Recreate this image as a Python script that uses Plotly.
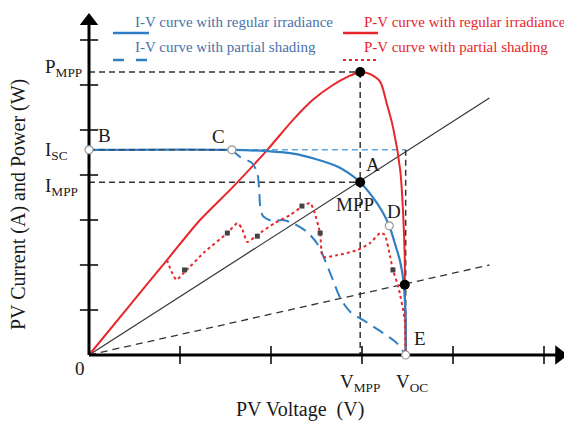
import plotly.graph_objects as go

# ---------------- data (axis units: 1 unit = one tick interval) ----------------
x_ticks = [1, 2, 3, 4, 5]
y_ticks = [1, 2, 3, 4, 5, 6, 7]

V_MPP = 2.98
V_OC = 3.48
P_MPP = 6.29
I_SC = 4.56
I_MPP = 3.84
V_C = 1.57

# I-V curve, regular irradiance
iv_reg_v = [0, 1.57, 1.96, 2.26, 2.48, 2.74, 2.87, 2.98, 3.11, 3.22, 3.30, 3.36, 3.42, 3.46, 3.48, 3.48]
iv_reg_i = [4.56, 4.56, 4.53, 4.47, 4.36, 4.18, 4.02, 3.84, 3.53, 3.20, 2.87, 2.49, 2.07, 1.56, 0.78, 0]

# P-V curve, regular irradiance
pv_reg_v = [0, 0.45, 0.857, 1.22, 1.58, 1.96, 2.24, 2.46, 2.68, 2.84, 2.98, 3.09, 3.20, 3.27, 3.34, 3.42, 3.45, 3.47, 3.47, 3.48]
pv_reg_p = [0, 1.11, 2.11, 3.0, 3.73, 4.56, 5.22, 5.67, 6.0, 6.18, 6.29, 6.24, 6.07, 5.6, 5.07, 4.11, 3.22, 2.11, 1.51, 0]

# I-V curve, partial shading
iv_ps_v = [1.57, 1.66, 1.79, 1.85, 1.87, 1.88, 1.91, 2.01, 2.13, 2.24, 2.40, 2.52, 2.60, 2.68, 2.76, 2.87, 3.01, 3.23, 3.38, 3.48]
iv_ps_i = [4.56, 4.4, 4.27, 4.04, 3.67, 3.33, 3.09, 2.98, 3.0, 2.93, 2.73, 2.44, 2.07, 1.67, 1.27, 0.96, 0.78, 0.49, 0.27, 0]

# P-V curve, partial shading
pv_ps_v = [0.857, 0.91, 0.96, 1.05, 1.27, 1.52, 1.63, 1.68, 1.74, 1.85, 2.04, 2.21, 2.35, 2.43, 2.47, 2.54, 2.57, 2.73, 2.95, 3.09, 3.20, 3.25, 3.31, 3.34, 3.40, 3.47, 3.48]
pv_ps_p = [2.11, 1.84, 1.67, 1.84, 2.29, 2.71, 2.93, 2.82, 2.51, 2.67, 2.93, 3.11, 3.31, 3.38, 3.22, 2.71, 2.18, 2.22, 2.33, 2.49, 2.71, 2.67, 2.18, 1.89, 1.51, 0.78, 0]
pv_ps_dot_v = [1.05, 1.52, 1.85, 2.34, 2.54, 3.34]
pv_ps_dot_p = [1.89, 2.71, 2.64, 3.31, 2.71, 1.89]

# load lines through the origin
load1_v = [0, 4.40]
load1_y = [0, 5.71]
load2_v = [0, 4.40]
load2_y = [0, 2.0]

# special points
solid_pts_v = [V_MPP, V_MPP, 3.47]
solid_pts_y = [P_MPP, I_MPP, 1.56]
open_pts_v = [0, V_C, 3.30, V_OC]
open_pts_y = [I_SC, I_SC, 2.87, 0]

# axis extents
x_axis_end = 5.17
y_axis_end = 7.42

BLUE = "#2f7fc4"
LBLUE = "#5aa6de"
RED = "#e8262b"
DARK = "#333333"
FONT = "Liberation Serif"

fig = go.Figure()

def line(x, y, color, width=1.5, dash="solid", shape="linear", smoothing=1.0):
    fig.add_trace(go.Scatter(x=x, y=y, mode="lines", hoverinfo="skip",
                             line=dict(color=color, width=width, dash=dash, shape=shape,
                                       smoothing=smoothing)))

# reference dashed lines
line([0, V_MPP], [P_MPP, P_MPP], DARK, 1.5, "6px,4px")
line([V_MPP, V_MPP], [P_MPP, 0], DARK, 1.5, "6px,4px")
line([0, V_MPP], [I_MPP, I_MPP], DARK, 1.5, "6px,4px")
line([V_C, V_OC], [I_SC, I_SC], LBLUE, 1.5, "6px,4px")
line([V_OC, V_OC], [I_SC, 0], DARK, 1.5, "6px,4px")

# load lines
line(load1_v, load1_y, DARK, 1.2)
line(load2_v, load2_y, DARK, 1.3, "7px,5px")

# curves
line(pv_reg_v, pv_reg_p, RED, 2, shape="spline", smoothing=0.8)
line(iv_ps_v, iv_ps_i, BLUE, 2, "12px,7px", shape="spline", smoothing=0.7)
line(iv_reg_v, iv_reg_i, BLUE, 2.2, shape="spline", smoothing=0.8)
line([0, V_C], [I_SC, I_SC], DARK, 1, "6px,4px")
line(pv_ps_v, pv_ps_p, RED, 2, "dot", shape="spline", smoothing=0.5)

fig.add_trace(go.Scatter(x=pv_ps_dot_v, y=pv_ps_dot_p, mode="markers", hoverinfo="skip",
                         marker=dict(symbol="square", size=5, color="#444444")))

# axes
line([0, x_axis_end], [0, 0], "black", 3)
line([0, 0], [0, y_axis_end], "black", 3)
fig.add_trace(go.Scatter(x=[x_axis_end], y=[0], mode="markers", hoverinfo="skip",
                         marker=dict(symbol="triangle-right", size=17, color="black")))
fig.add_trace(go.Scatter(x=[0], y=[y_axis_end], mode="markers", hoverinfo="skip",
                         marker=dict(symbol="triangle-up", size=16, color="black")))
fig.add_trace(go.Scatter(x=x_ticks, y=[0] * len(x_ticks), mode="markers", hoverinfo="skip",
                         marker=dict(symbol="line-ns", size=13, line=dict(color="black", width=1.5))))
fig.add_trace(go.Scatter(x=[0] * len(y_ticks), y=y_ticks, mode="markers", hoverinfo="skip",
                         marker=dict(symbol="line-ew", size=13, line=dict(color="black", width=1.5))))

# points
fig.add_trace(go.Scatter(x=open_pts_v, y=open_pts_y, mode="markers", hoverinfo="skip",
                         marker=dict(symbol="circle", size=8, color="white",
                                     line=dict(color="#999999", width=1.2))))
fig.add_trace(go.Scatter(x=solid_pts_v, y=solid_pts_y, mode="markers", hoverinfo="skip",
                         marker=dict(symbol="circle", size=10, color="black")))

# page offset (browser body margin)
OFF = 8
W, H = 572 - OFF, 425 - OFF
def px(x):
    return (x - OFF) / W
def py(y):
    return 1 - (y - OFF) / H

def txt(x, y, s, size=19, color="#1a1a1a", xanchor="center", ref="data", angle=0):
    if ref == "paper":
        fig.add_annotation(x=px(x), y=py(y), xref="paper", yref="paper", text=s, showarrow=False,
                           xanchor=xanchor, yanchor="middle", textangle=angle,
                           font=dict(family=FONT, size=size, color=color))
    else:
        fig.add_annotation(x=x, y=y, xref="x", yref="y", text=s, showarrow=False,
                           xanchor=xanchor, yanchor="middle", textangle=angle,
                           font=dict(family=FONT, size=size, color=color))

# axis value labels
txt(-0.505, P_MPP + 0.08, "P<sub>MPP</sub>", xanchor="left")
txt(-0.505, I_SC - 0.02, "I<sub>SC</sub>", xanchor="left")
txt(-0.505, I_MPP - 0.1, "I<sub>MPP</sub>", xanchor="left")
txt(V_MPP, -0.62, "V<sub>MPP</sub>")
txt(V_OC + 0.07, -0.62, "V<sub>OC</sub>")
txt(-0.1, -0.3, "0")

# point labels
txt(0.165, 4.87, "B")
txt(1.42, 4.85, "C")
txt(3.12, 4.24, "A")
txt(2.92, 3.35, "MPP")
txt(3.35, 3.2, "D")
txt(3.64, 0.36, "E")

# axis titles
txt(300, 409, "PV Voltage  (V)", size=20, ref="paper")
txt(19, 205, "PV Current (A) and Power (W)", size=20, ref="paper", angle=-90)

# legend
txt(133, 22, "I-V curve with regular irradiance", size=15, color="#4a72a8", xanchor="left", ref="paper")
txt(362, 22, "P-V curve with regular irradiance", size=15, color=RED, xanchor="left", ref="paper")
txt(133, 47, "I-V curve with partial shading", size=15, color="#4a72a8", xanchor="left", ref="paper")
txt(362, 47, "P-V curve with partial shading", size=15, color=RED, xanchor="left", ref="paper")

def seg(x0, x1, y, color, dash="solid", width=2.5):
    fig.add_shape(type="line", xref="paper", yref="paper", x0=px(x0), x1=px(x1), y0=py(y), y1=py(y),
                  line=dict(color=color, width=width, dash=dash))

seg(113, 149, 33, BLUE)
seg(343, 378, 33, RED)
seg(113, 149, 60, BLUE, "11px,12px")
seg(343, 378, 60, RED, "dot", 2)

fig.update_layout(
    width=W, height=H,
    margin=dict(l=0, r=0, t=0, b=0, pad=0),
    paper_bgcolor="white", plot_bgcolor="white",
    showlegend=False,
    xaxis=dict(range=[(OFF - 89) / 91, (OFF + W - 89) / 91], visible=False, fixedrange=True),
    yaxis=dict(range=[(355 - OFF - H) / 45, (355 - OFF) / 45], visible=False, fixedrange=True),
)

fig.write_html("out.html")
